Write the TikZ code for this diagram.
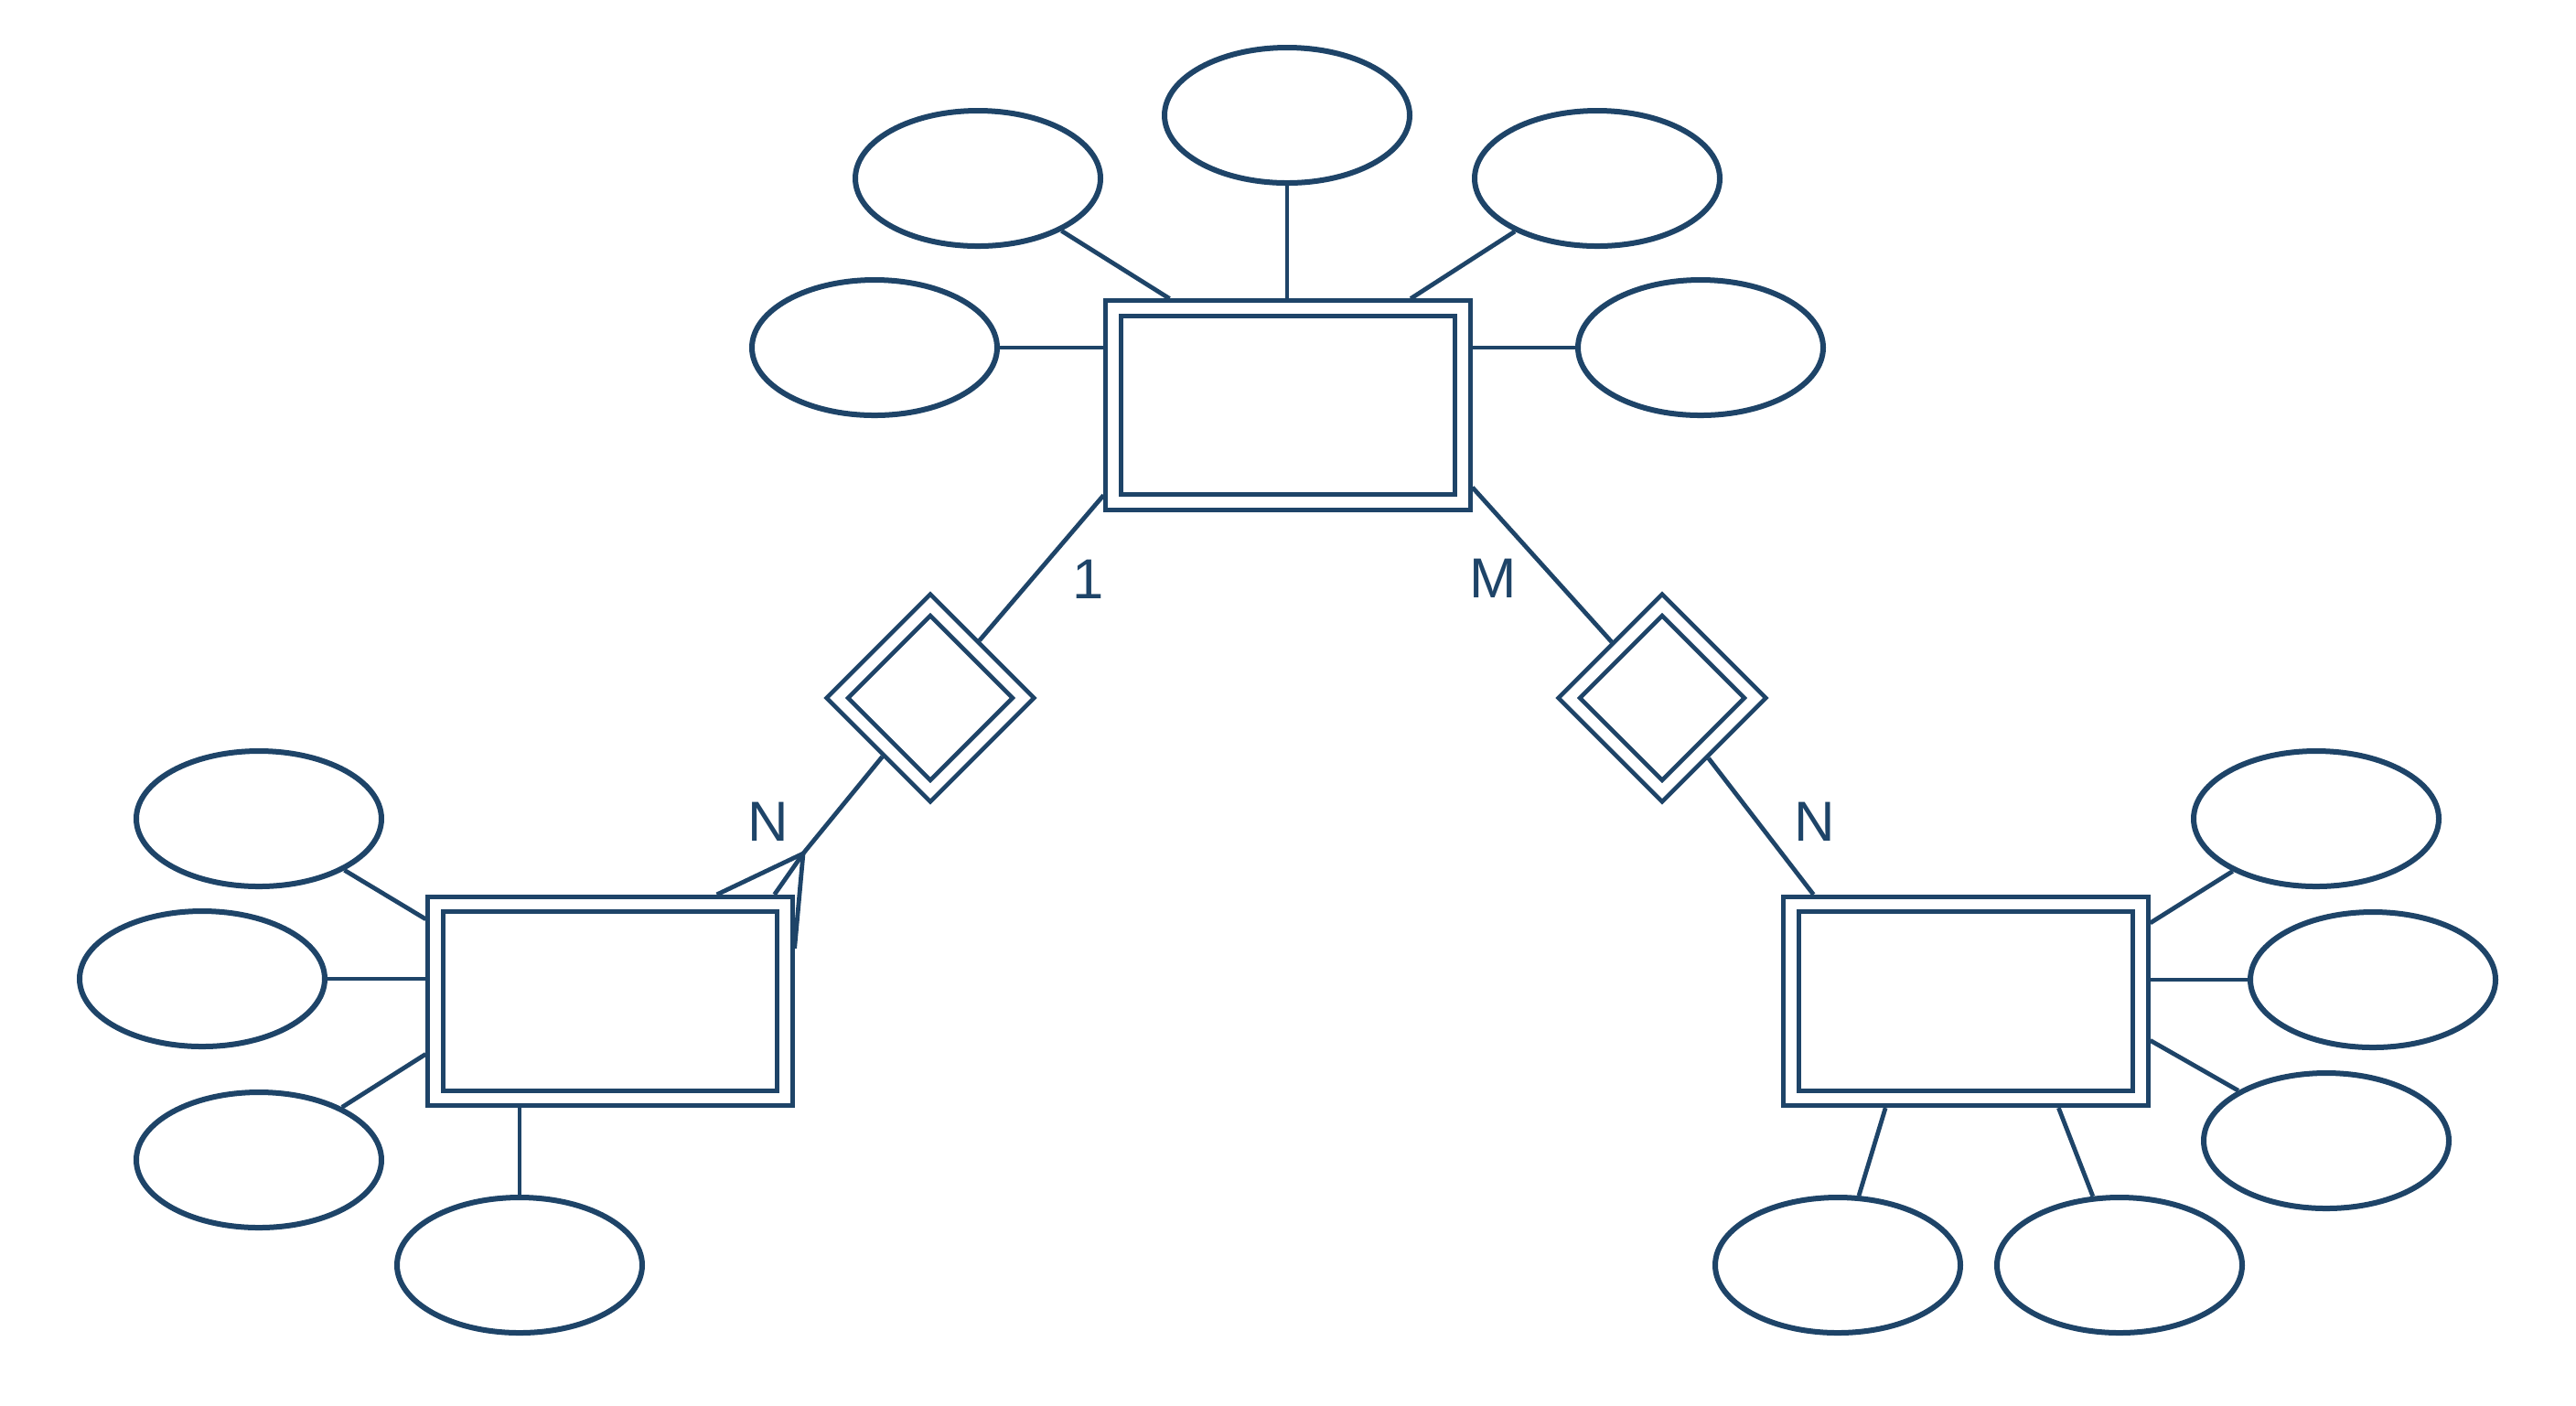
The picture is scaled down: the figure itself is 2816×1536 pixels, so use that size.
\documentclass[tikz,border=0pt]{standalone}
\usepackage{fontspec}
\setmainfont{Liberation Sans}
\usetikzlibrary{shapes.geometric,calc}
\definecolor{erblue}{RGB}{30,68,104}
\begin{document}
\begin{tikzpicture}[x=0.25pt,y=-0.25pt,line width=1.2pt,
  attr/.style={draw=erblue,line width=1.5pt,ellipse,minimum width=67pt,minimum height=37pt,inner sep=0pt},
  entity/.style={draw=erblue,double=white,double distance=2.9pt,rectangle,minimum width=95.5pt,minimum height=53pt,inner sep=0pt,outer sep=2.65pt},
  rel/.style={draw=erblue,double=white,double distance=2.9pt,diamond,minimum width=53pt,minimum height=53pt,inner sep=0pt,outer sep=2.65pt},
  link/.style={draw=erblue,line width=1.2pt},
  card/.style={text=erblue,font=\fontsize{15.4}{18}\selectfont,inner sep=0pt}]
\fill[white] (0,0) rectangle (2816,1536);
\useasboundingbox (0,0) rectangle (2816,1536);
% entities
\node[entity] (topE) at (1408,443) {};
\node[entity] (lE) at (667,1094.5) {};
\node[entity] (rE) at (2149,1094.5) {};
% relationships
\node[rel] (dL) at (1017,763) {};
\node[rel] (dR) at (1817,763) {};
% attributes
\node[attr] (tA1) at (956,380) {};
\node[attr] (tA2) at (1069,195) {};
\node[attr] (tA3) at (1407,126) {};
\node[attr] (tA4) at (1746,195) {};
\node[attr] (tA5) at (1859,380) {};
\node[attr] (lA1) at (283,895) {};
\node[attr] (lA2) at (221,1070) {};
\node[attr] (lA3) at (283,1268) {};
\node[attr] (lA4) at (568,1383) {};
\node[attr] (rA1) at (2532,895) {};
\node[attr] (rA2) at (2594,1071) {};
\node[attr] (rA3) at (2543,1247) {};
\node[attr] (rA4) at (2009,1383) {};
\node[attr] (rA5) at (2317,1383) {};
\coordinate (cf) at (878,933);
% attribute links
\draw[link] (tA1) -- (tA1 -| topE.west);
\draw[link] (tA2) -- (topE.138.2);
\draw[link] (tA3) -- (tA3 |- topE.north);
\draw[link] (tA4) -- (topE.41.3);
\draw[link] (tA5) -- (tA5 -| topE.east);
\draw[link] (lA1) -- (lE.156.3);
\draw[link] (lA2) -- (lA2 -| lE.west);
\draw[link] (lA3) -- (lE.196.5);
\draw[link] (lA4) -- (lA4 |- lE.south);
\draw[link] (rA1) -- (rE.23);
\draw[link] (rA2) -- (rA2 -| rE.east);
\draw[link] (rA3) -- (rE.-12.5);
\draw[link] (rA4) -- (rE.233);
\draw[link] (rA5) -- (rE.311.5);
% relationship links
\draw[link] (dL) -- (topE.206.8);
\draw[link] (dR) -- (topE.-24.5);
\draw[link] (dL) -- (cf);
\draw[link] (cf) -- (lE.45.1);
\draw[link] (cf) -- (lE.33.8);
\draw[link] (cf) -- (lE.16);
\draw[link] (dR) -- (rE.145.1);
% cardinalities
\node[card] (c1) at (1190,633) {1};
\node[card] (cM) at (1632,632) {M};
\node[card] (cN1) at (840,898) {N};
\node[card] (cN2) at (1984,898) {N};
\end{tikzpicture}
\end{document}
